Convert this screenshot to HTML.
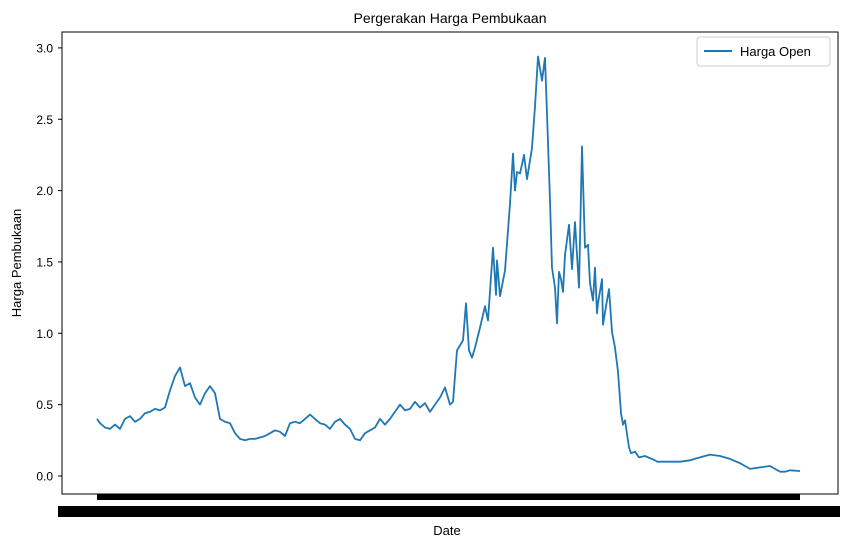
<!DOCTYPE html>
<html><head><meta charset="utf-8"><style>body{margin:0;background:#fff}svg{display:block;font-family:"Liberation Sans","DejaVu Sans",sans-serif}</style></head>
<body>
<svg id="c" width="850" height="547">
<rect x="0" y="0" width="850" height="547" fill="#fff"/>
<text x="450" y="23" font-size="14" text-anchor="middle">Pergerakan Harga Pembukaan</text>
<text x="447" y="535" font-size="13" text-anchor="middle">Date</text>
<text transform="translate(21,263) rotate(-90)" font-size="13" text-anchor="middle">Harga Pembukaan</text>
<g id="yaxis"></g>
<g id="xaxis"></g>
<path id="line" fill="none" stroke="#1f77b4" stroke-width="1.8" stroke-linejoin="round"/>
<rect x="62" y="32" width="776" height="462" fill="none" stroke="#000" stroke-width="1"/>
<g>
<rect x="697" y="37" width="133" height="29" rx="3" fill="#fff" stroke="#ccc"/>
<line x1="704" y1="51" x2="732" y2="51" stroke="#1f77b4" stroke-width="2"/>
<text x="740" y="56" font-size="13">Harga Open</text>
</g>
</svg>
<script>
const days=[0,9,24,39,54,69,84,99,114,129,144,159,174,189,204,219,234,249,264,279,294,309,324,339,354,369,384,399,414,429,444,459,474,489,504,519,534,549,564,579,594,609,624,639,654,669,684,699,714,729,744,759,774,789,804,819,834,849,864,879,894,909,924,939,954,969,984,999,1014,1029,1044,1059,1068,1080,1098,1107,1116,1125,1134,1149,1164,1173,1188,1197,1200,1209,1224,1233,1239,1248,1254,1260,1269,1281,1290,1305,1314,1323,1335,1344,1350,1359,1365,1374,1380,1386,1392,1398,1404,1416,1425,1434,1446,1455,1464,1473,1479,1488,1494,1500,1503,1515,1518,1527,1536,1545,1554,1563,1572,1578,1584,1596,1602,1614,1626,1644,1674,1680,1749,1779,1809,1839,1869,1899,1929,1944,1959,1989,2019,2034,2049,2064,2079,2109];
const openVals=[0.40,0.37,0.34,0.33,0.36,0.33,0.40,0.42,0.38,0.40,0.44,0.45,0.47,0.46,0.48,0.60,0.70,0.76,0.63,0.65,0.55,0.50,0.58,0.63,0.58,0.40,0.38,0.37,0.30,0.26,0.25,0.26,0.26,0.27,0.28,0.30,0.32,0.31,0.28,0.37,0.38,0.37,0.40,0.43,0.40,0.37,0.36,0.33,0.38,0.40,0.36,0.33,0.26,0.25,0.30,0.32,0.34,0.40,0.36,0.40,0.45,0.50,0.46,0.47,0.52,0.48,0.51,0.45,0.50,0.55,0.62,0.50,0.52,0.88,0.95,1.21,0.88,0.83,0.90,1.04,1.19,1.09,1.60,1.27,1.51,1.26,1.44,1.72,1.91,2.26,2.00,2.13,2.12,2.25,2.08,2.30,2.59,2.94,2.77,2.93,2.54,1.93,1.46,1.32,1.07,1.43,1.38,1.29,1.55,1.76,1.45,1.78,1.32,2.31,1.60,1.62,1.35,1.23,1.46,1.14,1.21,1.38,1.06,1.19,1.31,1.01,0.90,0.73,0.44,0.36,0.39,0.20,0.16,0.17,0.13,0.14,0.11,0.10,0.10,0.11,0.13,0.15,0.14,0.12,0.09,0.07,0.05,0.06,0.07,0.05,0.03,0.03,0.04,0.035,0.03];
const yTicks=[0,0.5,1,1.5,2,2.5,3];
const yLabels=["0.0","0.5","1.0","1.5","2.0","2.5","3.0"];
const NS="http://www.w3.org/2000/svg";
const xMax=days[days.length-1];
function xs(d){return 97+d/xMax*703;}
function ys(v){return 476-v*142.7;}
const ya=document.getElementById('yaxis');
yTicks.forEach((t,i)=>{
 const l=document.createElementNS(NS,'line');
 
 
 l.setAttribute('x1',58);l.setAttribute('x2',62);l.setAttribute('y1',ys(t));l.setAttribute('y2',ys(t));l.setAttribute('stroke','#000');
 ya.appendChild(l);
 const tx=document.createElementNS(NS,'text');
 
 
 tx.setAttribute('x',53);tx.setAttribute('y',ys(t)+4.5);tx.setAttribute('font-size','12');tx.setAttribute('text-anchor','end');
 tx.textContent=yLabels[i];ya.appendChild(tx);
});
const xa=document.getElementById('xaxis');
const band=document.createElementNS(NS,'rect');


band.setAttribute('x',97);band.setAttribute('y',494);band.setAttribute('width',703);band.setAttribute('height',6);band.setAttribute('fill','#000');
xa.appendChild(band);
const lb=document.createElementNS(NS,'rect');


lb.setAttribute('x',58);lb.setAttribute('y',506);lb.setAttribute('width',782);lb.setAttribute('height',11);lb.setAttribute('fill','#000');
xa.appendChild(lb);
let d='';
days.forEach((t,i)=>{d+=(i?'L':'M')+xs(t).toFixed(1)+','+ys(openVals[i]).toFixed(1);});
document.getElementById('line').setAttribute('d',d);
</script>
</body></html>
